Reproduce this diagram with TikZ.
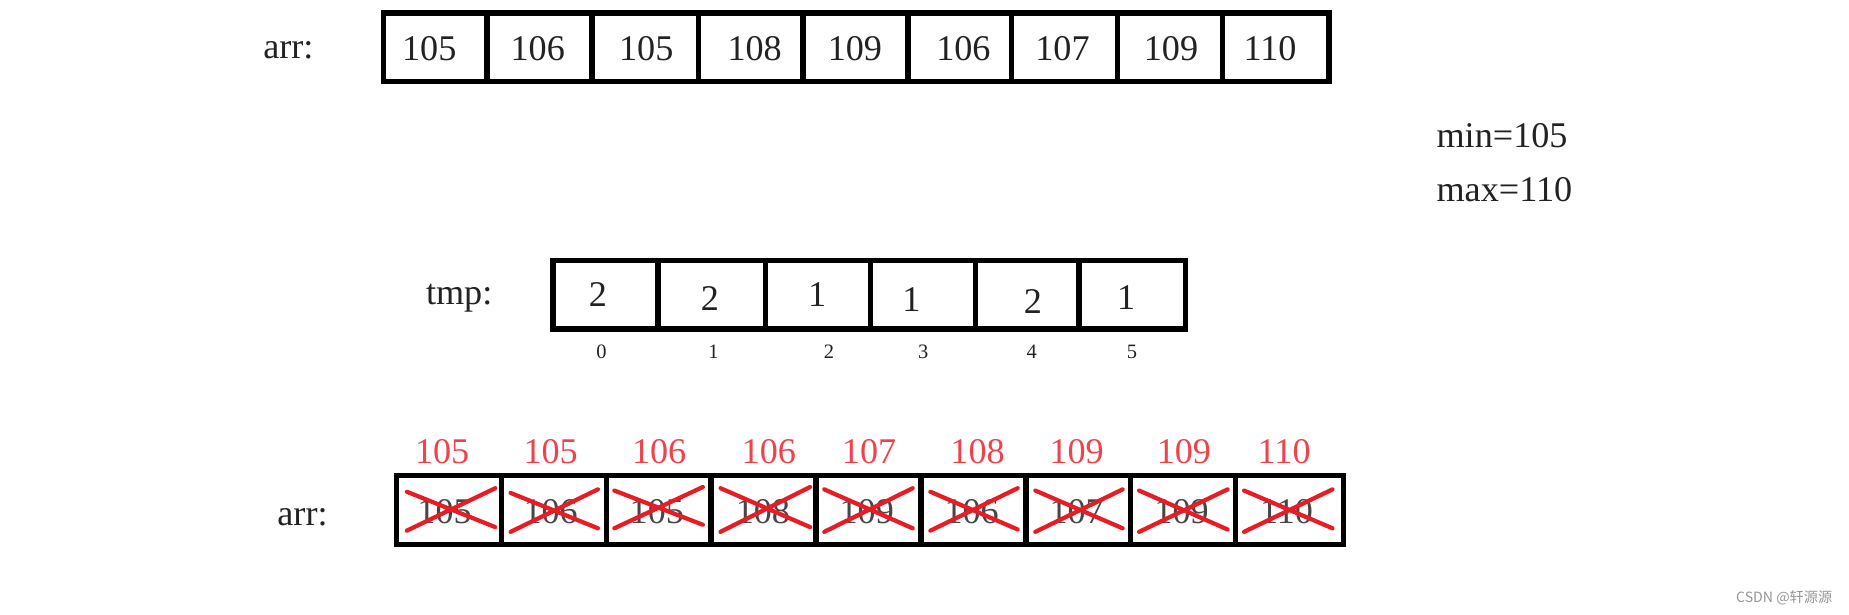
\documentclass[tikz,border=0pt]{standalone}
\usepackage{fontspec}
\setmainfont{Liberation Serif}
\newfontfamily\cjk{Noto Sans CJK SC}

\begin{document}
\begin{tikzpicture}[x=0.75pt,y=0.75pt,yscale=-1,xscale=1,
  cellbox/.style={line width=3.3pt, line join=miter},
  redcross/.style={color={rgb, 255:red, 232; green, 28; blue, 36 }, line width=2.7pt, line cap=round},
  bigtxt/.style={font=\fontsize{23}{28}\selectfont, inner sep=0.75pt, color={rgb, 255:red, 34; green, 34; blue, 34 }},
  smalltxt/.style={font=\fontsize{13}{16}\selectfont, inner sep=0.75pt, color={rgb, 255:red, 34; green, 34; blue, 34 }},
  redtxt/.style={bigtxt, color={rgb, 255:red, 240; green, 66; blue, 76 }},
  graytxt/.style={bigtxt, color={rgb, 255:red, 70; green, 70; blue, 70 }}]
%uncomment if require: \path (0,521); %set diagram left start at 0, and has height of 521
\useasboundingbox (0,0) rectangle (1568,520.7);

%Shape: Rectangle [id:arr top row]
\draw [cellbox] (325,11) -- (413,11) -- (413,69) -- (325,69) -- cycle ;
\draw [cellbox] (413,11) -- (502,11) -- (502,69) -- (413,69) -- cycle ;
\draw [cellbox] (502,11) -- (592,11) -- (592,69) -- (502,69) -- cycle ;
\draw [cellbox] (592,11) -- (681,11) -- (681,69) -- (592,69) -- cycle ;
\draw [cellbox] (681,11) -- (770,11) -- (770,69) -- (681,69) -- cycle ;
\draw [cellbox] (770,11) -- (858,11) -- (858,69) -- (770,69) -- cycle ;
\draw [cellbox] (858,11) -- (948,11) -- (948,69) -- (858,69) -- cycle ;
\draw [cellbox] (948,11) -- (1037,11) -- (1037,69) -- (948,69) -- cycle ;
\draw [cellbox] (1037,11) -- (1127,11) -- (1127,69) -- (1037,69) -- cycle ;

%Shape: Rectangle [id:tmp row]
\draw [cellbox] (469,221) -- (558,221) -- (558,279) -- (469,279) -- cycle ;
\draw [cellbox] (558,221) -- (649,221) -- (649,279) -- (558,279) -- cycle ;
\draw [cellbox] (649,221) -- (738,221) -- (738,279) -- (649,279) -- cycle ;
\draw [cellbox] (738,221) -- (827,221) -- (827,279) -- (738,279) -- cycle ;
\draw [cellbox] (827,221) -- (915,221) -- (915,279) -- (827,279) -- cycle ;
\draw [cellbox] (915,221) -- (1005,221) -- (1005,279) -- (915,279) -- cycle ;

%Shape: Rectangle [id:arr bottom row]
\draw [cellbox] (336,403) -- (425,403) -- (425,462) -- (336,462) -- cycle ;
\draw [cellbox] (425,403) -- (514,403) -- (514,462) -- (425,462) -- cycle ;
\draw [cellbox] (514,403) -- (603,403) -- (603,462) -- (514,462) -- cycle ;
\draw [cellbox] (603,403) -- (692,403) -- (692,462) -- (603,462) -- cycle ;
\draw [cellbox] (692,403) -- (781,403) -- (781,462) -- (692,462) -- cycle ;
\draw [cellbox] (781,403) -- (870,403) -- (870,462) -- (781,462) -- cycle ;
\draw [cellbox] (870,403) -- (959,403) -- (959,462) -- (870,462) -- cycle ;
\draw [cellbox] (959,403) -- (1048,403) -- (1048,462) -- (959,462) -- cycle ;
\draw [cellbox] (1048,403) -- (1139,403) -- (1139,462) -- (1048,462) -- cycle ;

% Text Node
\draw (222,50) node [anchor=base west][bigtxt] (arrTop) {arr:};
% Text Node
\draw (364,41) node [bigtxt] (vA) {105};
\draw (456,41) node [bigtxt] (vB) {106};
\draw (548,41) node [bigtxt] (vC) {105};
\draw (640,41) node [bigtxt] (vD) {108};
\draw (725,41) node [bigtxt] (vE) {109};
\draw (817,41) node [bigtxt] (vF) {106};
\draw (901,41) node [bigtxt] (vG) {107};
\draw (993,41) node [bigtxt] (vH) {109};
\draw (1077,41) node [bigtxt] (vI) {110};

% Text Node
\draw (1217,115) node [anchor=west][bigtxt] (minTxt) {min=105};
% Text Node
\draw (1217,161) node [anchor=west][bigtxt] (maxTxt) {max=110};

% Text Node
\draw (360,258) node [anchor=base west][bigtxt] (tmpLbl) {tmp:};
% Text Node
\draw (507,250) node [bigtxt] (tA) {2};
\draw (602,253) node [bigtxt] (tB) {2};
\draw (693,250) node [bigtxt] (tC) {1};
\draw (773,254) node [bigtxt] (tD) {1};
\draw (876,256) node [bigtxt] (tE) {2};
\draw (955,252) node [bigtxt] (tF) {1};
% Text Node
\draw (510,298) node [smalltxt] (iA) {0};
\draw (605,298) node [smalltxt] (iB) {1};
\draw (703,298) node [smalltxt] (iC) {2};
\draw (783,298) node [smalltxt] (iD) {3};
\draw (875,298) node [smalltxt] (iE) {4};
\draw (960,298) node [smalltxt] (iF) {5};

% Text Node
\draw (234,446) node [anchor=base west][bigtxt] (arrBot) {arr:};
% Text Node
\draw (375,383) node [redtxt] (rA) {105};
\draw (467,383) node [redtxt] (rB) {105};
\draw (559,383) node [redtxt] (rC) {106};
\draw (652,383) node [redtxt] (rD) {106};
\draw (737,383) node [redtxt] (rE) {107};
\draw (829,383) node [redtxt] (rF) {108};
\draw (913,383) node [redtxt] (rG) {109};
\draw (1004,383) node [redtxt] (rH) {109};
\draw (1089,383) node [redtxt] (rI) {110};
% Text Node
\draw (377,434) node [graytxt] (gA) {105};
\draw (467,434) node [graytxt] (gB) {106};
\draw (557,434) node [graytxt] (gC) {105};
\draw (647,434) node [graytxt] (gD) {108};
\draw (735,434) node [graytxt] (gE) {109};
\draw (824,434) node [graytxt] (gF) {106};
\draw (913,434) node [graytxt] (gG) {107};
\draw (1002,434) node [graytxt] (gH) {109};
\draw (1091,434) node [graytxt] (gI) {110};

%Straight Lines [id:red crosses]
\draw [redcross] (345,417) -- (420,447) (345,450) -- (420,414) ;
\draw [redcross] (433,418) -- (507,448) (433,451) -- (507,415) ;
\draw [redcross] (521,416) -- (596,445) (521,448) -- (596,413) ;
\draw [redcross] (611,414) -- (687,447) (611,451) -- (687,413) ;
\draw [redcross] (699,415) -- (774,448) (699,451) -- (774,414) ;
\draw [redcross] (789,417) -- (863,449) (789,450) -- (863,414) ;
\draw [redcross] (878,416) -- (952,448) (878,451) -- (952,415) ;
\draw [redcross] (966,416) -- (1041,449) (966,451) -- (1041,415) ;
\draw [redcross] (1055,416) -- (1130,448) (1055,451) -- (1130,415) ;

% Text Node
\draw (1555,507) node [anchor=east][inner sep=0.75pt, font=\cjk\fontsize{9}{11}\selectfont, color={rgb, 255:red, 150; green, 150; blue, 150 }] (mark) {CSDN @轩源源};

\end{tikzpicture}
\end{document}
